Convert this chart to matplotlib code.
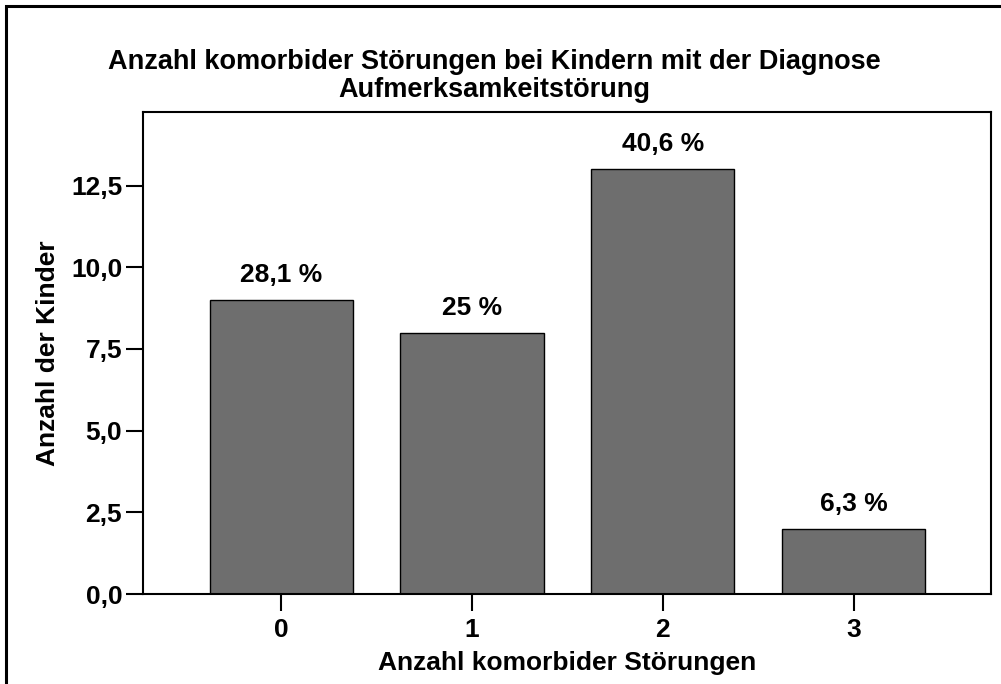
import matplotlib

matplotlib.use("Agg")
import matplotlib.pyplot as plt
from matplotlib.patches import Rectangle

# data
categories = ["0", "1", "2", "3"]
counts = [9, 8, 13, 2]
percent_labels = ["28,1 %", "25 %", "40,6 %", "6,3 %"]
ytick_values = [0.0, 2.5, 5.0, 7.5, 10.0, 12.5]
ytick_labels = ["0,0", "2,5", "5,0", "7,5", "10,0", "12,5"]

plt.rcParams["font.family"] = ["Liberation Sans", "DejaVu Sans"]
plt.rcParams["font.weight"] = "bold"

FS = 19
W, H = 1001, 684
fig = plt.figure(figsize=(W / 100, H / 100), dpi=100)

# outer frame (cut off on the right and bottom like the source)
fig.patches.append(Rectangle((6 / W, -0.05), 1.2, 1 - 6 / H + 0.05,
                             transform=fig.transFigure, fill=False,
                             edgecolor="black", linewidth=2.2))

ax = fig.add_axes([143 / W, 1 - 594 / H, (991 - 143) / W, (594 - 112) / H])
x = list(range(len(categories)))
ax.bar(x, counts, width=0.75, color="#6e6e6e", edgecolor="black",
       linewidth=1.0, zorder=2)
for xi, val, lab in zip(x, counts, percent_labels):
    ax.annotate(lab, (xi, val), xytext=(0, 13), textcoords="offset points",
                ha="center", va="baseline", fontsize=FS, fontweight="bold")

ax.set_xlim(-0.724, 3.72)
ax.set_ylim(0, 14.75)
ax.set_xticks(x)
ax.set_xticklabels(categories)
ax.set_yticks(ytick_values)
ax.set_yticklabels(ytick_labels)
ax.tick_params(axis="both", length=12, width=1.5, labelsize=FS)
ax.tick_params(axis="y", pad=3)
ax.tick_params(axis="x", pad=5)
for sp in ax.spines.values():
    sp.set_linewidth(1.5)

ax.set_xlabel("Anzahl komorbider Störungen", fontsize=FS, fontweight="bold",
              labelpad=7)
ax.set_ylabel("Anzahl der Kinder", fontsize=FS, fontweight="bold",
              labelpad=8)

fig.text(494 / W, 1 - 76 / H,
         "Anzahl komorbider Störungen bei Kindern mit der Diagnose\n"
         "Aufmerksamkeitstörung",
         ha="center", va="center", fontsize=19.5, fontweight="bold",
         linespacing=1.1)

fig.savefig("out.png", dpi=100)
